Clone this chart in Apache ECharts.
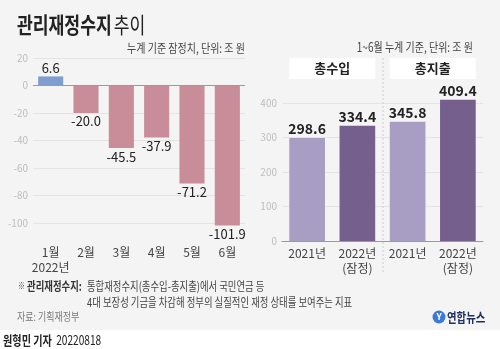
<!DOCTYPE html>
<html><head><meta charset="utf-8">
<script src="https://cdn.jsdelivr.net/npm/echarts@6/dist/echarts.min.js"></script>
<style>html,body{margin:0;padding:0;background:#fff}#c{width:500px;height:349px}</style>
</head><body><div id="c"></div>
<script>
// ---- data ----
const months = ['1월\n2022년', '2월', '3월', '4월', '5월', '6월'];
const balance = [6.6, -20.0, -45.5, -37.9, -71.2, -101.9];
const groups = ['총수입', '총지출'];
const yearCats = ['2021년', '2022년\n(잠정)', '2021년', '2022년\n(잠정)'];
const totals = [298.6, 334.4, 345.8, 409.4];

// ---- style ----
const FONT = '"Noto Sans CJK KR", "Noto Sans", sans-serif';
const POS = '#7f9ecf', NEG = '#c98c99';
const LIGHT = '#a89dc2', DARK = '#75608d';
const BG = '#f4f4f4';

const chart = echarts.init(document.getElementById('c'));

const leftData = balance.map(v => ({
  value: v,
  itemStyle: { color: v >= 0 ? POS : NEG },
  label: { position: v >= 0 ? 'top' : 'bottom' }
}));
const rightData = totals.map((v, i) => ({
  value: v,
  itemStyle: { color: i % 2 === 0 ? LIGHT : DARK }
}));

function cText(x, y, text, opt) {
  const o = opt || {};
  const sx = o.scaleX || 0.78;
  delete o.scaleX;
  return {
    type: 'text', x: x, y: y, scaleX: sx,
    style: Object.assign({ text: text, fontFamily: FONT, fontSize: 12, fill: '#444',
      align: 'left', verticalAlign: 'middle' }, o)
  };
}

chart.setOption({
  backgroundColor: '#fff',
  textStyle: { fontFamily: FONT },
  grid: [
    { left: 33, top: 58, width: 212, height: 165 },
    { left: 282, top: 103, width: 201, height: 138 }
  ],
  xAxis: [
    { type: 'category', gridIndex: 0, data: months, position: 'bottom',
      axisLine: { show: false }, axisTick: { show: false },
      axisLabel: { interval: 0, color: '#444', fontSize: 12, lineHeight: 15, margin: 22, fontFamily: FONT } },
    { type: 'category', gridIndex: 1, data: yearCats,
      axisLine: { show: true, lineStyle: { color: '#9a9a9a', width: 1 } }, axisTick: { show: false },
      axisLabel: { interval: 0, color: '#444', fontSize: 12, lineHeight: 15, margin: 5, fontFamily: FONT } },
    { type: 'category', gridIndex: 1, data: groups, position: 'top',
      axisLine: { show: false }, axisTick: { show: false },
      axisLabel: { interval: 0, color: '#222', fontSize: 13, fontWeight: 'bold', fontFamily: FONT, margin: 24,
        backgroundColor: '#fff', width: 86, height: 21, lineHeight: 21, align: 'center' } }
  ],
  yAxis: [
    { type: 'value', gridIndex: 0, min: -100, max: 20, interval: 20,
      axisLine: { show: false }, axisTick: { show: false },
      axisLabel: { color: '#bdbdbd', fontSize: 10, margin: 5 },
      splitLine: { lineStyle: { color: '#e4e4e4', width: 1 } } },
    { type: 'value', gridIndex: 1, min: 0, max: 400, interval: 100,
      axisLine: { show: false }, axisTick: { show: false },
      axisLabel: { color: '#bdbdbd', fontSize: 10, margin: 5 },
      splitLine: { lineStyle: { color: '#e4e4e4', width: 1 } } }
  ],
  series: [
    { type: 'bar', xAxisIndex: 0, yAxisIndex: 0, data: leftData, barCategoryGap: '29%', clip: false,
      label: { show: true, color: '#222', fontSize: 13, distance: 2, formatter: p => p.value.toFixed(1) },
      markLine: { silent: true, symbol: 'none', label: { show: false },
        lineStyle: { color: '#9a9a9a', type: 'solid', width: 1 }, data: [{ yAxis: 0 }] },
      z: 3 },
    { type: 'bar', xAxisIndex: 1, yAxisIndex: 1, data: rightData, barCategoryGap: '29%', clip: false,
      label: { show: true, position: 'top', color: '#222', fontSize: 14, fontWeight: 'bold', distance: 2,
        formatter: p => p.value.toFixed(1) },
      z: 3 }
  ],
  graphic: [
    { type: 'rect', shape: { x: 0, y: 0, width: 500, height: 330 }, style: { fill: BG }, z: -10, silent: true },
    { type: 'line', shape: { x1: 383, y1: 58, x2: 383, y2: 274 },
      style: { stroke: '#cfcfcf', lineWidth: 1, lineDash: [2, 2] }, z: 1 },
    cText(17, 25, '{b|관리재정수지} {n|추이}', { rich: {
      b: { fontFamily: FONT, fontSize: 22, fontWeight: 'bold', fill: '#222', color: '#222' },
      n: { fontFamily: FONT, fontSize: 22, fill: '#222', color: '#222' } } }),
    cText(245, 48, '누계 기준 잠정치, 단위: 조 원', { align: 'right', fill: '#444', fontSize: 12.5, scaleX: 0.8 }),
    cText(473, 47, '1~6월 누계 기준, 단위: 조 원', { align: 'right', fill: '#444', fontSize: 12.5, scaleX: 0.8 }),
    cText(18, 286, '{s|※} {b|관리재정수지:}', { rich: {
      s: { fontFamily: FONT, fontSize: 9, fill: '#444', color: '#444' },
      b: { fontFamily: FONT, fontSize: 12, fontWeight: 'bold', fill: '#333', color: '#333' } } }),
    cText(87, 286, '통합재정수지(총수입-총지출)에서 국민연금 등', { fill: '#444' }),
    cText(87, 302, '4대 보장성 기금을 차감해 정부의 실질적인 재정 상태를 보여주는 지표', { fill: '#444' }),
    cText(17, 317, '자료: 기획재정부', { fill: '#777', fontSize: 11.5 }),
    { type: 'circle', shape: { cx: 439, cy: 317, r: 6.5 }, style: { fill: '#3a7bd5' } },
    { type: 'text', x: 439, y: 317, style: { text: 'Y', fontFamily: FONT, fontSize: 9, fontWeight: 'bold',
      fill: '#fff', align: 'center', verticalAlign: 'middle' } },
    cText(447, 317, '연합뉴스', { fontSize: 13, fontWeight: 'bold', fill: '#1e2f63', scaleX: 0.8 }),
    cText(3, 340, '{b|원형민 기자}  {n|20220818}', { rich: {
      b: { fontFamily: FONT, fontSize: 13, fontWeight: 'bold', fill: '#222', color: '#222' },
      n: { fontFamily: FONT, fontSize: 13, fill: '#222', color: '#222' } } })
  ]
});
</script></body></html>
